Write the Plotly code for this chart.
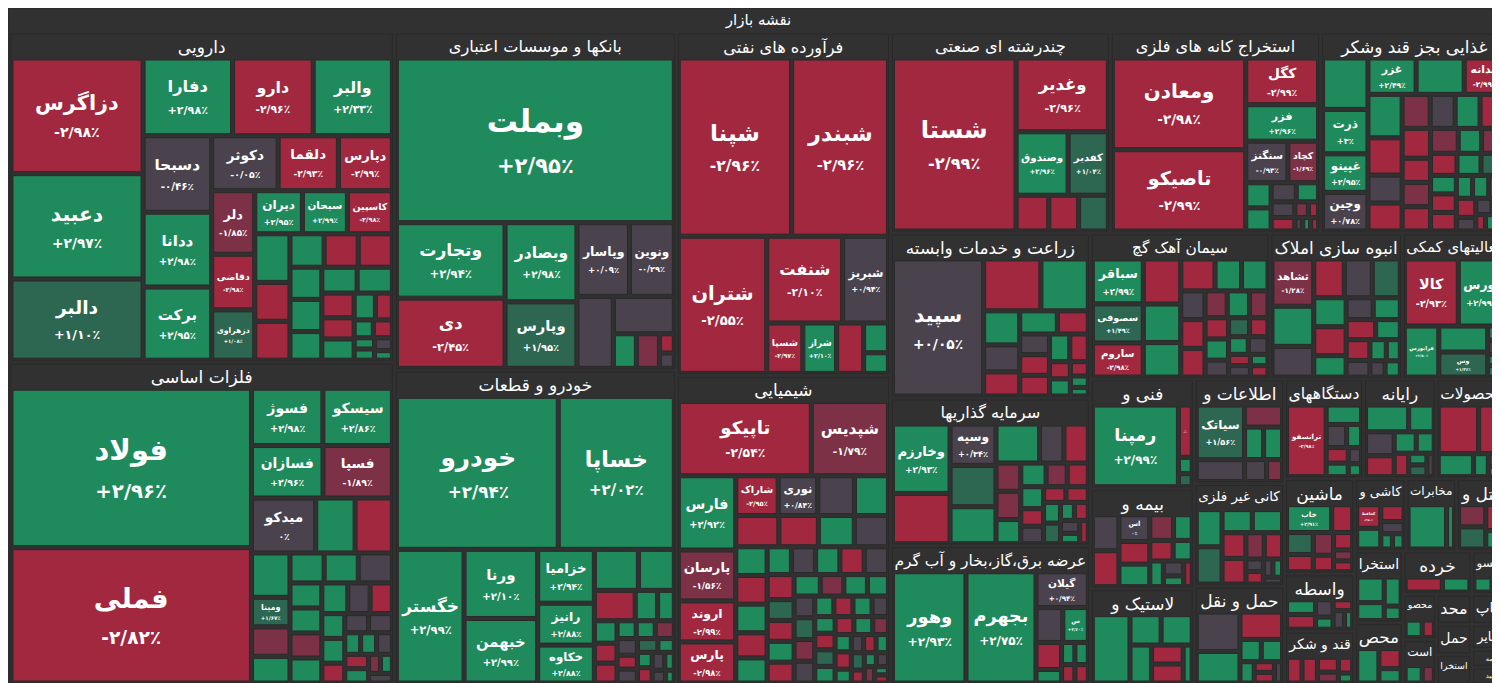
import plotly.graph_objects as go

root_label = "نقشه بازار"

sectors = [
    "دارویی", "فلزات اساسی", "بانکها و موسسات اعتباری", "خودرو و قطعات",
    "فرآورده های نفتی", "شیمیایی", "چندرشته ای صنعتی", "استخراج کانه های فلزی",
    "غذایی بجز قند وشکر", "زراعت و خدمات وابسته", "سیمان آهک گچ", "انبوه سازی املاک",
    "فعالیتهای کمکی", "سرمایه گذاریها", "عرضه برق،گاز،بخار و آب گرم", "فنی و",
    "بیمه و", "اطلاعات و", "لاستیک و", "ماشین", "کانی غیر فلزی", "حمل و نقل",
    "دستگاههای", "محصولات", "رایانه", "کاشی و", "قند و شکر", "مخابرات", "واسطه",
    "هتل و", "استخرا", "محص", "منسو", "محصو", "محد", "است", "خرده", "چاپ", "حمل",
    "استخرا", "سایر", "مه", "بید",
]

# named symbols: sector index, tile size, daily change (%)
stock_names = [
    "دزاگرس", "دعبید", "دالبر", "دفارا", "والبر", "دارو", "دسبحا", "ددانا", "برکت",
    "دکوثر", "دلقما", "دپارس", "دلر", "دقاضی", "دزهراوی", "دیران", "سبحان", "کاسپین",
    "فولاد", "فملی", "فسوژ", "سیسکو", "فسازان", "فسپا", "میدکو", "ومینا",
    "وبملت", "وتجارت", "دی", "وبصادر", "وپارس", "وپاسار", "ونوین",
    "خودرو", "خساپا", "خگستر", "ورنا", "خبهمن", "خزامیا", "رانیز", "خکاوه",
    "شپنا", "شبندر", "شتران", "شنفت", "شبریز", "شسپا", "شراز",
    "تاپیکو", "شپدیس", "فارس", "پارسان", "اروند", "پارس", "شاراک", "نوری",
    "شستا", "وغدیر", "وصندوق", "کفدیر",
    "ومعادن", "تاصیکو", "کگل", "فزر", "سنگنز", "کچاد",
    "ذرت", "غپینو", "وچین", "غزر", "غدانه",
    "سپید", "سباقر", "سصوفی", "ساروم", "ثشاهد",
    "کالا", "بورس", "فرابورس", "وس", "وخارزم", "وسپه",
    "وهور", "بجهرم", "گیلان", "س", "رمپنا", "ن", "اس", "سیاتک", "خاب",
    "ترانسفو", "کحافظ",
]
stock_sector = [
    0, 0, 0, 0, 0, 0, 0, 0, 0, 0, 0, 0, 0, 0, 0, 0, 0, 0,
    1, 1, 1, 1, 1, 1, 1, 1,
    2, 2, 2, 2, 2, 2, 2,
    3, 3, 3, 3, 3, 3, 3, 3,
    4, 4, 4, 4, 4, 4, 4,
    5, 5, 5, 5, 5, 5, 5, 5,
    6, 6, 6, 6,
    7, 7, 7, 7, 7, 7,
    8, 8, 8, 8, 8,
    9, 10, 10, 10, 11,
    12, 12, 12, 12, 13, 13,
    14, 14, 14, 14, 15, 15, 16, 17, 19,
    22, 25,
]
stock_size = [
    134, 122, 94, 61, 54, 55, 46, 45, 44, 32, 29, 26, 24, 21, 19, 18, 17, 17,
    337, 286, 36, 35, 33, 32, 31, 10,
    402, 72, 67, 50, 42, 34, 29,
    219, 157, 80, 45, 42, 27, 21, 19,
    178, 152, 107, 58, 35, 16, 15,
    88, 51, 38, 26, 21, 21, 15, 14,
    201, 64, 31, 24,
    115, 102, 32, 25, 16.5, 12,
    19, 16.5, 16.5, 16.5, 14,
    122, 23, 20, 17.5, 20,
    37, 32, 18, 12.5, 40, 19,
    83, 79, 19, 9, 78, 8, 9.5, 30, 15,
    33, 8,
]
stock_change = [
    -2.98, 2.97, 1.10, 2.98, 2.33, -2.96, -0.46, 2.98, 2.95, -0.05, -2.93, -2.99,
    -1.85, -2.98, 1.08, 2.95, 2.99, -2.98,
    2.96, -2.82, 2.98, 2.86, 2.96, -1.89, 0, 1.67,
    2.95, 2.94, -2.45, 2.98, 1.95, 0.09, -0.29,
    2.94, 2.02, 2.99, 2.10, 2.99, 2.94, 2.88, 2.88,
    -2.96, -2.96, -2.55, -2.10, 0.94, -2.97, 2.10,
    -2.54, -1.79, 2.92, -1.56, -2.99, -2.98, -2.95, 0.84,
    -2.99, -2.96, 2.96, 1.04,
    -2.98, -2.99, -2.99, 2.96, -0.93, -1.69,
    3, 2.95, 0.78, 2.49, -2.99,
    0.05, 2.99, 1.49, -2.98, -1.28,
    -2.93, 2.99, 2.80, 1.36, 2.93, 0.34,
    2.93, 2.75, 0.94, 2.60, 2.99, -2.60, 0, 1.56, 2.91,
    -2.98, -2.50,
]

# small unlabeled tiles, one list per sector
small_size = [
    [15, 12, 12, 10, 10, 10, 9, 9, 8, 8, 8, 7, 6, 6, 5, 4, 3, 3, 2, 2, 2, 1.5],
    [19, 18, 15, 10, 9, 9, 9, 9, 7, 7, 7, 7, 7, 6, 6, 5, 5, 4, 4, 4, 3, 3, 3, 3, 3, 2, 2, 2],
    [23, 20, 7, 7, 2.5, 2],
    [16, 13, 11, 6, 4.5, 4.5, 4, 4, 3, 3, 3, 3, 2.5, 2.5, 2.5, 2, 2, 2, 2, 1.5, 1.5, 1],
    [12, 6.5, 4.5],
    [13, 12, 12, 11, 10, 9.5, 8, 8, 7, 7, 6, 6, 6, 6, 6, 5, 5, 5, 5, 4.5, 4.5, 4, 4, 4, 4,
     3.5, 3.5, 3.5, 3, 3, 3, 3, 3, 2.5, 2.5, 2.5, 2, 2, 2, 2, 2, 1.5, 1.5, 1.5, 1.5, 1, 1,
     8, 6, 5, 4, 3, 3],
    [11, 10, 10],
    [6, 5.5, 4.5, 4, 3.5, 3, 2, 1.5, 1, 1, 1],
    [22, 16.5, 14, 12, 9, 9, 9, 8, 8, 8, 8, 6.5, 6.5, 6.5, 6.5, 5.5, 5.5, 5.5, 5, 5,
     4.5, 4.5, 4.5, 3.5, 3.5, 3.5, 3.5, 2.5, 2.5, 2, 1.5, 1.5, 1.5],
    [29, 24, 12, 9.5, 8.5, 8.5, 7, 6, 6, 6, 5.5, 5, 3.5, 3.5, 2.5, 2, 1.5],
    [17, 14.5, 13, 11, 8.5, 8.5, 7, 7, 7, 6, 6, 5, 5, 5, 4, 4, 3.5, 3.5, 3.5, 2.5, 2.5, 2, 2],
    [17, 13, 12, 11, 11, 9.5, 9.5, 7, 6, 6, 6, 5, 5, 4, 3.5, 3, 2.5, 2.5],
    [13, 2.5, 2.5, 2, 2],
    [29, 19, 17, 17, 9.5, 9.5, 7, 7, 6, 6, 5, 5, 5, 4, 4, 3.5, 3.5, 3.5, 3.5, 2.5, 2.5,
     2.5, 2, 2],
    [9.5, 7, 3.5, 3, 3, 2.5, 2.5],
    [2.5, 2],
    [11, 11, 8, 8, 7, 5.5, 5.5, 4.5, 4, 3.5, 2.5, 2.5],
    [12, 9.5, 7, 7, 5.5, 4],
    [30, 11, 11, 9.5, 7, 7, 4],
    [7, 7, 5.5, 5.5, 4, 4, 2.5, 2.5],
    [11, 11, 8, 8, 7, 7, 5.5, 5.5, 2.5, 2.5, 2, 2, 1.5],
    [20, 16, 13.5, 5.5, 5.5, 3.5, 2.5, 2.5, 2],
    [8, 5.5, 4, 4, 3.5, 2.5, 2],
    [23, 15, 9.5, 4, 2.5, 2],
    [13.5, 8, 8, 7, 5.5, 4.5, 4, 2.5, 2.5, 2],
    [7, 5.5, 4, 2.5, 2.5],
    [7, 7, 5.5, 4, 4, 2.5],
    [24, 5],
    [7, 7, 5, 3.5, 3.5, 3.5, 2.5],
    [8.5, 8.5, 7, 5],
    [10, 7, 7, 3.5],
    [12, 7, 5],
    [7, 5],
    [7, 5],
    [8.5],
    [7, 5],
    [13.5, 10],
    [8.5],
    [8.5],
    [8.5],
    [7],
    [5],
    [5],
]
small_change = [
    [2.9, -2.9, -2.9, 2.9, -2.9, -2.9, 2.9, 2.9, 2.9, 2.9, 2.9, -2.9, -2.9, 2.9, 2.9, -2.9,
     2.9, -2.9, 2.9, 2.9, 0, 2.9],
    [2.9, -2.9, 2.9, -1.5, 2.9, 2.9, 2.9, 0, 2.9, 2.9, -1.5, 2.9, 2.9, 0, -2.9, 2.9, 2.9,
     -2.9, 0, 0, 2.9, 2.9, 0, -2.9, 2.9, -1.5, 2.9, 0],
    [0, 0, 2.9, -1.5, -2.9, 0],
    [2.9, 2.9, -2.9, 2.9, 2.9, 2.9, -2.9, -2.9, 2.9, 2.9, -1.5, 0, -2.9, 0, 1.5, 2.9, 2.9,
     -2.9, 0, 2.9, 0, 2.9],
    [-2.9, 2.9, 2.9],
    [0, 2.9, -2.9, -2.9, 2.9, 0, 2.9, -2.9, -2.9, 2.9, 2.9, 0, 2.9, -2.9, 0, 1.5, -2.9,
     2.9, -2.9, -1.5, 2.9, 2.9, 0, 1.5, -1.5, 2.9, -2.9, 2.9, 0, 2.9, -2.9, 1.5, 2.9,
     -1.5, 2.9, -2.9, 2.9, 0, -2.9, 2.9, 1.5, -2.9, 2.9, 0, -1.5, 2.9, -2.9,
     2.9, -2.9, 2.9, 0, -2.9, 2.9],
    [-2.9, -2.9, 1.5],
    [2.9, 2.9, 0, 2.9, 0, -2.9, -1.5, -2.9, 0, 2.9, -2.9],
    [2.9, 2.9, 2.9, -2.9, 0, -2.9, -1.5, 0, 2.9, -2.9, -2.9, -2.9, -1.5, -2.9, -1.5, 2.9,
     -1.5, -2.9, 2.9, 1.5, 2.9, -2.9, -2.9, 2.9, 2.9, -2.9, -2.9, 0, 0, 2.9, -2.9, 2.9, 0],
    [-2.9, 2.9, 2.9, 0, -2.9, 2.9, -2.9, 0, -2.9, -2.9, 2.9, -2.9, -2.9, 2.9, -2.9, 2.9, 2.9],
    [-2.9, 2.9, 2.9, -2.9, 2.9, 2.9, 0, -2.9, -2.9, -1.5, 2.9, -1.5, -2.9, 2.9, 0, 1.5,
     -2.9, 2.9, 0, -2.9, 0, 2.9, -2.9],
    [2.9, 0, -2.9, 0, 1.5, 2.9, -2.9, 2.9, 0, 2.9, -2.9, 2.9, -2.9, 0, 2.9, 2.9, 0, 2.9],
    [2.9, 2.9, 0, 2.9, 2.9],
    [-2.9, 1.5, 2.9, 2.9, 0, -2.9, -1.5, -1.5, 2.9, 2.9, -1.5, -2.9, 2.9, -2.9, 0, -2.9,
     -2.9, 2.9, 1.5, 2.9, -2.9, 0, 2.9, -2.9],
    [0, -2.9, 2.9, 2.9, 2.9, -2.9, -2.9],
    [2.9, 1.5],
    [0, -2.9, -2.9, 2.9, -1.5, 2.9, -2.9, 2.9, 2.9, 0, 2.9, -2.9],
    [0, -1.5, 2.9, 2.9, 0, -1.5],
    [2.9, 2.9, 2.9, 2.9, -2.9, -2.9, 2.9],
    [-2.9, 1.5, -2.9, -1.5, -2.9, -2.9, -1.5, -2.9],
    [2.9, 1.5, 2.9, 2.9, -2.9, -2.9, -1.5, -2.9, 0, -2.9, 0, 2.9, 0],
    [0, 2.9, -2.9, 2.9, 2.9, 2.9, -2.9, -2.9, 0],
    [2.9, 0, 2.9, -2.9, 2.9, 0, 2.9],
    [-2.9, -2.9, 2.9, 2.9, 0, 2.9],
    [2.9, 2.9, 0, -2.9, 2.9, 2.9, -2.9, 2.9, 1.5, 0],
    [2.9, -2.9, 0, 2.9, 2.9],
    [-2.9, -2.9, -2.9, -1.5, -2.9, 2.9],
    [2.9, 2.9],
    [2.9, -2.9, 0, 2.9, -2.9, 0, 2.9],
    [-1.5, 1.5, -2.9, 2.9],
    [2.9, 2.9, 2.9, 2.9],
    [2.9, -2.9, 2.9],
    [2.9, -2.9],
    [2.9, -2.9],
    [2.9],
    [2.9, -1.5],
    [-2.9, 2.9],
    [2.9],
    [2.9],
    [2.9],
    [0],
    [2.9],
    [0],
]

BG = "#313131"
FONT = "DejaVu Sans"
FA_DIGITS = str.maketrans("0123456789.%", "۰۱۲۳۴۵۶۷۸۹/٪")


def tile_color(c):
    if c >= 2:
        return "#1f8a5b"
    if c >= 1:
        return "#2d6651"
    if c > -1:
        return "#4a434e"
    if c > -2:
        return "#7d3146"
    return "#a1283e"


def fa_percent(c):
    if c == 0:
        s = "0%"
    elif c == int(c):
        s = f"{c:+.0f}%"
    else:
        s = f"{c:+.2f}%"
    return s.translate(FA_DIGITS)


ids, labels, parents, values = ["root"], [root_label], [""], [0]
texts, colors, fsizes = [f"<b>{root_label}</b>"], [BG], [15]

for i, name in enumerate(sectors):
    ids.append(f"s{i}")
    labels.append(name)
    parents.append("root")
    values.append(0)
    texts.append(f"<b>{name}</b>")
    colors.append(BG)
    fsizes.append(17)

for k, (name, sec, size, chg) in enumerate(
        zip(stock_names, stock_sector, stock_size, stock_change)):
    fs = 7 + 1.2 * size ** 0.5
    ids.append(f"n{k}")
    labels.append(name)
    parents.append(f"s{sec}")
    values.append(size)
    texts.append(f"<b>{name}</b><br><span style='font-size:{fs * 0.68:.1f}px'>"
                 f"<b>{fa_percent(chg)}</b></span>")
    colors.append(tile_color(chg))
    fsizes.append(fs)

for i, (sizes, changes) in enumerate(zip(small_size, small_change)):
    for j, (size, chg) in enumerate(zip(sizes, changes)):
        ids.append(f"b{i}_{j}")
        labels.append("")
        parents.append(f"s{i}")
        values.append(size)
        texts.append("")
        colors.append(tile_color(chg))
        fsizes.append(10)

fig = go.Figure(go.Treemap(
    ids=ids,
    labels=labels,
    parents=parents,
    values=values,
    text=texts,
    textinfo="text",
    textposition="middle center",
    textfont=dict(family=FONT, color="white", size=fsizes),
    marker=dict(colors=colors, line=dict(color="#2a2a2a", width=1),
                pad=dict(t=26, l=2, r=2, b=2)),
    tiling=dict(pad=4),
    pathbar=dict(visible=False),
    hoverinfo="skip",
    sort=True,
))

fig.update_layout(
    width=1500,
    height=683,
    paper_bgcolor=BG,
    plot_bgcolor=BG,
    margin=dict(l=1, r=1, t=0, b=6),
    font=dict(family=FONT, color="white"),
)

fig.write_html("out.html")
